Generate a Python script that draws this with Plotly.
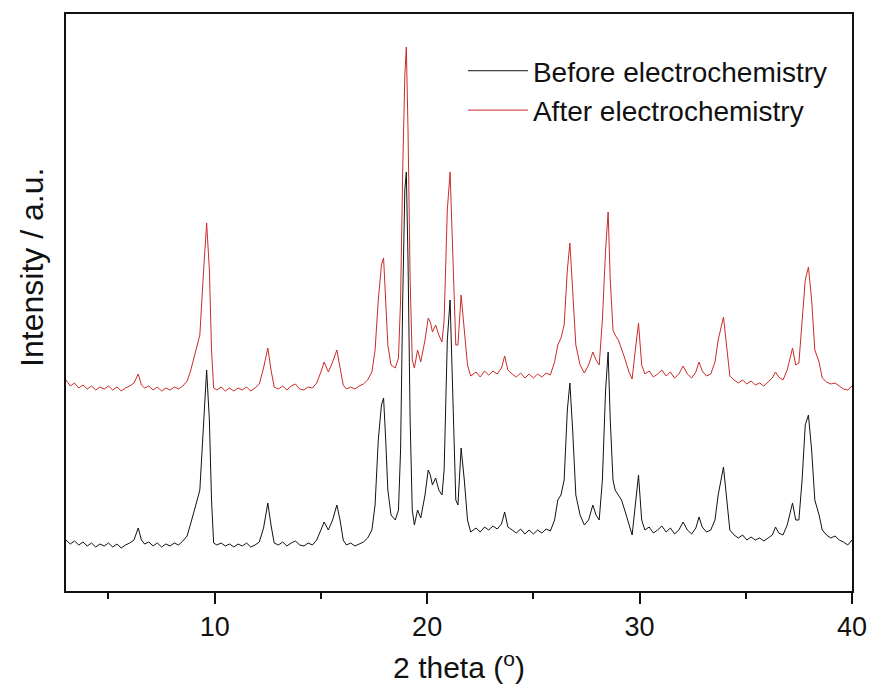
import plotly.graph_objects as go

two_theta = [3.0, 3.2, 3.4, 3.6, 3.8, 4.0, 4.2, 4.4, 4.6, 4.8, 5.0, 5.2, 5.4, 5.6, 5.8, 6.0, 6.2, 6.4, 6.55, 6.7,
             6.9, 7.1, 7.3, 7.5, 7.7, 7.9, 8.1, 8.3, 8.5, 8.7, 8.85, 9.0, 9.15, 9.3, 9.45, 9.62, 9.75, 9.85, 9.95, 10.1,
             10.3, 10.5, 10.7, 10.9, 11.1, 11.3, 11.5, 11.7, 11.9, 12.1, 12.3, 12.5, 12.65, 12.8, 13.0, 13.2, 13.4, 13.6, 13.8, 14.0,
             14.2, 14.4, 14.6, 14.8, 15.0, 15.15, 15.35, 15.55, 15.75, 15.9, 16.05, 16.2, 16.4, 16.6, 16.8, 17.0, 17.2, 17.4, 17.55, 17.7,
             17.85, 17.95, 18.05, 18.15, 18.3, 18.5, 18.65, 18.75, 18.85, 18.95, 19.02, 19.1, 19.2, 19.3, 19.4, 19.55, 19.7, 19.9, 20.05, 20.15,
             20.25, 20.4, 20.55, 20.7, 20.8, 20.95, 21.08, 21.2, 21.35, 21.45, 21.6, 21.75, 21.9, 22.05, 22.3, 22.5, 22.7, 22.9, 23.1, 23.3,
             23.5, 23.65, 23.8, 24.0, 24.2, 24.4, 24.6, 24.8, 25.0, 25.2, 25.4, 25.6, 25.8, 26.0, 26.15, 26.3, 26.45, 26.6, 26.72, 26.85,
             27.0, 27.2, 27.4, 27.6, 27.8, 27.95, 28.1, 28.25, 28.4, 28.52, 28.62, 28.75, 28.85, 29.0, 29.15, 29.3, 29.5, 29.65, 29.8, 29.95,
             30.1, 30.25, 30.45, 30.65, 30.85, 31.05, 31.25, 31.45, 31.65, 31.85, 32.05, 32.25, 32.45, 32.65, 32.8, 32.95, 33.15, 33.35, 33.55, 33.7,
             33.95, 34.1, 34.25, 34.45, 34.65, 34.85, 35.05, 35.25, 35.45, 35.65, 35.85, 36.05, 36.25, 36.4, 36.55, 36.75, 36.95, 37.2, 37.35, 37.5,
             37.65, 37.8, 37.95, 38.1, 38.25, 38.45, 38.6, 38.8, 39.0, 39.2, 39.4, 39.6, 39.8, 40.0]

before = [51, 47, 50, 46, 49, 45, 48, 44, 47, 45, 48, 44, 47, 43, 46, 48, 51, 63, 51, 47,
          49, 45, 48, 44, 47, 45, 48, 46, 50, 55, 66, 79, 89, 101, 161, 221, 171, 91, 48, 46,
          48, 45, 47, 44, 47, 45, 48, 44, 46, 49, 63, 88, 66, 48, 46, 49, 45, 48, 50, 46,
          45, 48, 46, 51, 61, 69, 61, 71, 86, 71, 51, 46, 48, 45, 47, 49, 53, 61, 86, 151,
          186, 193, 151, 101, 76, 71, 81, 141, 291, 401, 419, 331, 171, 81, 66, 81, 73, 96, 121, 116,
          106, 113, 101, 96, 121, 251, 291, 206, 91, 86, 143, 111, 71, 59, 63, 59, 64, 61, 65, 62,
          67, 79, 64, 61, 58, 62, 57, 61, 57, 61, 58, 62, 60, 71, 91, 96, 111, 181, 208, 161,
          96, 76, 66, 71, 86, 76, 71, 111, 201, 239, 171, 111, 101, 96, 91, 81, 66, 56, 86, 116,
          71, 61, 64, 58, 61, 65, 59, 63, 57, 61, 69, 61, 57, 63, 74, 64, 59, 61, 71, 96,
          124, 91, 61, 56, 53, 56, 51, 54, 51, 53, 50, 53, 56, 64, 58, 56, 66, 88, 71, 71,
          111, 166, 176, 141, 91, 76, 61, 56, 53, 55, 51, 49, 46, 51]

after = [211, 205, 208, 203, 206, 202, 205, 201, 204, 202, 205, 201, 204, 200, 203, 205, 208, 217, 206, 203,
         205, 201, 204, 200, 203, 201, 204, 202, 205, 210, 219, 231, 244, 256, 311, 368, 321, 241, 203, 201,
         204, 200, 203, 200, 203, 201, 204, 200, 203, 207, 223, 243, 221, 204, 202, 205, 201, 205, 207, 202,
         201, 204, 203, 208, 219, 229, 219, 229, 241, 225, 206, 202, 204, 202, 205, 207, 211, 219, 241, 291,
         326, 333, 291, 246, 226, 223, 233, 291, 421, 516, 544, 461, 311, 231, 223, 241, 229, 251, 273, 269,
         259, 266, 256, 249, 271, 381, 419, 341, 246, 246, 296, 261, 226, 215, 219, 214, 220, 216, 220, 217,
         223, 235, 221, 217, 214, 218, 213, 217, 213, 217, 214, 218, 216, 229, 246, 253, 266, 321, 348, 301,
         246, 226, 218, 226, 239, 231, 226, 271, 341, 379, 311, 261, 256, 251, 243, 233, 219, 212, 241, 268,
         226, 217, 220, 214, 217, 221, 215, 219, 213, 217, 225, 217, 213, 219, 229, 220, 215, 217, 229, 251,
         274, 241, 215, 211, 208, 211, 207, 210, 206, 208, 205, 209, 213, 219, 214, 211, 221, 243, 226, 228,
         266, 311, 324, 291, 241, 229, 213, 209, 207, 208, 205, 202, 201, 205]

series_names = ["Before electrochemistry", "After electrochemistry"]
x_ticks = [10, 20, 30, 40]
x_minor_ticks = [5, 15, 25, 35]

FONT = "Liberation Sans, Arial, sans-serif"
INK = "#111111"

fig = go.Figure()
fig.add_trace(go.Scatter(x=two_theta, y=before, mode="lines", name=series_names[0],
                         line=dict(color=INK, width=1)))
fig.add_trace(go.Scatter(x=two_theta, y=after, mode="lines", name=series_names[1],
                         line=dict(color="#cc2a2a", width=1)))

fig.update_layout(
    width=870, height=686,
    margin=dict(l=66, r=18, t=14, b=95, autoexpand=False),
    paper_bgcolor="white", plot_bgcolor="white",
    font=dict(family=FONT, color=INK),
    showlegend=True,
    legend=dict(x=0.505, y=0.9445, xanchor="left", yanchor="top",
                bgcolor="rgba(0,0,0,0)", font=dict(size=28, family=FONT),
                itemwidth=60, tracegroupgap=0),
    xaxis=dict(range=[3.0, 40.0], tickvals=x_ticks, ticks="outside", ticklen=11, tickwidth=2,
               tickcolor=INK, showline=True, linewidth=2, linecolor=INK, mirror=True,
               showgrid=False, zeroline=False, automargin=False, tickfont=dict(size=27, family=FONT),
               minor=dict(tickvals=x_minor_ticks, ticks="outside", ticklen=6, tickwidth=2,
                          tickcolor=INK, showgrid=False),
               title=dict(text="2 theta (<sup>o</sup>)", font=dict(size=30, family=FONT), standoff=16)),
    yaxis=dict(range=[0, 577], showticklabels=False, ticks="", showline=True, linewidth=2,
               linecolor=INK, mirror=True, showgrid=False, zeroline=False, automargin=False),
    annotations=[dict(text="Intensity / a.u.", textangle=-90, xref="paper", yref="paper",
                      x=0, y=0.56, xshift=-34, xanchor="center", yanchor="middle",
                      showarrow=False, font=dict(size=32, family=FONT, color=INK))],
)

# remove the default page margin so the 870x686 figure fills the window exactly
fig.write_html("out.html",
               config={"displayModeBar": False},
               post_script="document.body.style.margin='0';document.body.style.overflow='hidden';")
